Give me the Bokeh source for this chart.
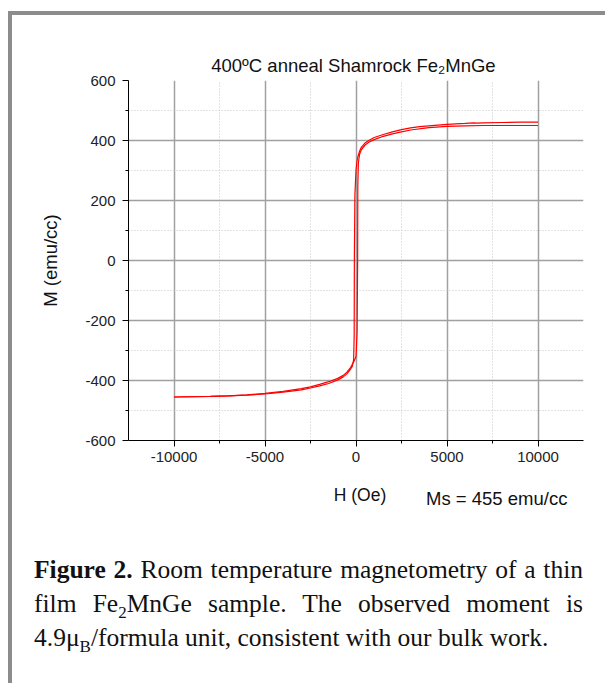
from bokeh.plotting import figure
from bokeh.models import FixedTicker, Div, Range1d
from bokeh.layouts import column
from bokeh.embed import file_html
from bokeh.resources import INLINE

# Descending branch (from +10 kOe to -10 kOe)
h_down = [10000, 9000, 8000, 7000, 6600, 6500, 6000, 5000, 4000, 3500, 3000, 2500, 2000, 1500,
          1000, 700, 500, 300, 200, 100, 50, 0, -60, -90, -100, -130, -200, -300, -500, -700,
          -1000, -1500, -2000, -2500, -3000, -4000, -5000, -6000, -7000, -8000, -10000]
m_down = [461, 461, 460, 459, 458, 459, 457, 454, 449, 446, 442, 436, 429, 420,
          410, 400, 392, 378, 365, 345, 330, 300, 220, 0, -250, -330, -352, -362, -378, -388,
          -398, -410, -418, -425, -431, -439, -445, -449, -451, -453, -455]

# Ascending branch (from -10 kOe back to +10 kOe)
h_up = [-10000, -8000, -7000, -6000, -5000, -4000, -3000, -2500, -2000, -1500, -1000, -700,
        -500, -300, -200, -100, 0, 60, 90, 100, 130, 200, 300, 500, 700, 1000, 1500, 2000,
        2500, 3000, 4000, 5000, 6000, 7000, 8000, 10000]
m_up = [-455, -453, -451, -448, -443, -436, -427, -421, -413, -404, -393, -383,
        -372, -357, -346, -335, -320, -240, 0, 250, 325, 355, 370, 385, 394, 403, 414, 422,
        429, 435, 443, 447, 449, 450, 450, 450]

x_ticks = [-10000, -5000, 0, 5000, 10000]
x_minor = [-7500, -2500, 2500, 7500]
y_ticks = [-600, -400, -200, 0, 200, 400, 600]
y_minor = [-500, -300, -100, 100, 300, 500]
y_grid = [-400, -200, 0, 200, 400]

title_text = "400\u00baC anneal Shamrock  Fe\u2082MnGe"
x_label = "H (Oe)"
y_label = "M (emu/cc)"
ms_text = "Ms = 455 emu/cc"

p = figure(width=593, height=463, output_backend="svg", toolbar_location=None,
           x_range=Range1d(-12500, 12500), y_range=Range1d(-600, 600),
           min_border_left=116, min_border_right=22, min_border_top=65, min_border_bottom=38)
p.outline_line_color = None
p.background_fill_color = "white"
p.border_fill_color = "white"

p.title.text = title_text
p.title.align = "center"
p.title.text_font = "Liberation Sans"
p.title.text_font_size = "18.5px"
p.title.text_font_style = "normal"
p.title.text_color = "#111111"

for ax in (p.xaxis[0], p.yaxis[0]):
    ax.axis_line_color = "black"
    ax.axis_line_width = 1
    ax.major_tick_line_color = "black"
    ax.minor_tick_line_color = "black"
    ax.major_tick_out = 6
    ax.major_tick_in = 0
    ax.minor_tick_out = 3
    ax.minor_tick_in = 0
    ax.major_label_text_font = "Liberation Sans"
    ax.major_label_text_font_size = "15px"
    ax.major_label_text_color = "#222222"
    ax.axis_label_text_font = "Liberation Sans"
    ax.axis_label_text_font_size = "18.5px"
    ax.axis_label_text_font_style = "normal"
    ax.axis_label_text_color = "#111111"

p.xaxis.ticker = FixedTicker(ticks=x_ticks, minor_ticks=x_minor)
p.yaxis.ticker = FixedTicker(ticks=y_ticks, minor_ticks=y_minor)
p.xaxis.major_label_overrides = {t: str(t) for t in x_ticks}
p.yaxis.major_label_overrides = {t: str(t) for t in y_ticks}
p.yaxis.axis_label = y_label
p.yaxis.axis_label_standoff = 21
p.xaxis.major_label_standoff = 5
p.yaxis.major_label_standoff = 7

p.xgrid.ticker = FixedTicker(ticks=x_ticks, minor_ticks=x_minor)
p.ygrid.ticker = FixedTicker(ticks=y_grid, minor_ticks=y_minor)
for g in (p.xgrid[0], p.ygrid[0]):
    g.grid_line_color = "#a0a0a0"
    g.grid_line_width = 1.5
    g.minor_grid_line_color = "#c4c4c4"
    g.minor_grid_line_dash = "1 2"
    g.minor_grid_line_width = 1

p.line(h_down, m_down, line_color="#ff0000", line_width=1.2)
p.line(h_up, m_up, line_color="#ff0000", line_width=1.2)

sans = "font-family:'Liberation Sans';color:#111;white-space:nowrap;position:absolute;"
serif = ("font-family:'Liberation Serif';font-size:25.5px;line-height:34px;color:#111;"
         "white-space:nowrap;width:549px;")
caption = Div(
    text=(
        "<div style='position:relative;width:593px;height:200px;'>"
        f"<div style=\"{sans}font-size:17.5px;left:343px;top:12px;transform:translate(-50%,-50%);\">{x_label}</div>"
        f"<div style=\"{sans}font-size:18.5px;left:409px;top:16px;transform:translate(0,-50%);\">{ms_text}</div>"
        "<div style='position:absolute;left:17px;top:70px;'>"
        f"<div style=\"{serif}text-align:justify;text-align-last:justify;\">"
        "<b>Figure 2.</b> Room temperature magnetometry of a thin</div>"
        f"<div style=\"{serif}text-align:justify;text-align-last:justify;\">"
        "film Fe<sub style='font-size:17px;line-height:0;'>2</sub>MnGe sample. The observed moment is</div>"
        f"<div style=\"{serif}text-align:left;\">"
        "4.9\u03bc<sub style='font-size:17px;line-height:0;'>B</sub>/formula unit, consistent with our bulk work.</div>"
        "</div></div>"
    ),
    width=593, height=200,
    styles={"background": "white"},
)

layout = column(p, caption, spacing=0,
                styles={"border-top": "4px solid #8c8c8c", "border-left": "4px solid #8c8c8c",
                        "margin-top": "11px", "margin-left": "8px", "background": "white"})

open("out.html", "w").write(file_html(layout, INLINE))
